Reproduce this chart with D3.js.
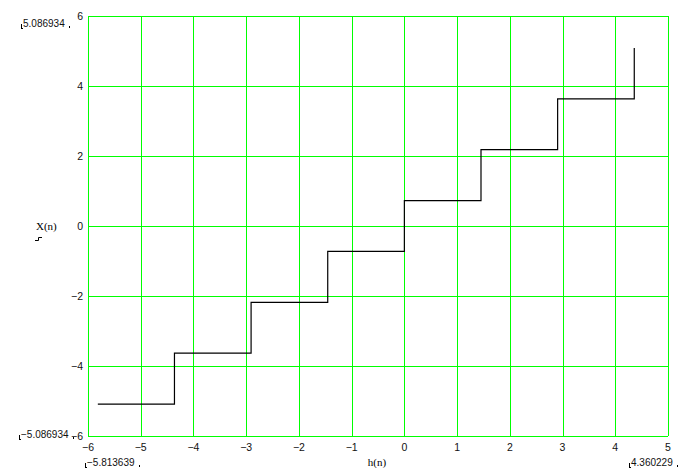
<!DOCTYPE html>
<html><head><meta charset="utf-8">
<script src="https://cdn.jsdelivr.net/npm/d3@7"></script>
<style>body{margin:0;background:#fff}svg{display:block}</style>
</head><body>
<svg id="c" width="690" height="468"></svg>
<script>
const hValues = [-5.813639, -4.360229, -2.906820, -1.453410, 0, 1.453410, 2.906820, 4.360229];
const xValues = [-5.086934, -3.633524, -2.180115, -0.726705, 0.726705, 2.180115, 3.633524, 5.086934];
const xTicks = [-6, -5, -4, -3, -2, -1, 0, 1, 2, 3, 4, 5];
const yTicks = [-6, -4, -2, 0, 2, 4, 6];
const cornerLabels = {yMax: "5.086934", yMin: "-5.086934", xMin: "-5.813639", xMax: "4.360229"};

const svg = d3.select("#c");
const x = d3.scaleLinear().domain([-6, 5]).range([88, 668]);
const y = d3.scaleLinear().domain([-6, 6]).range([436, 16]);
const green = "#00ff00";
const fmt = v => v < 0 ? "\u2212" + Math.abs(v) : String(v);
const tickFont = "'Liberation Sans', Arial, sans-serif";
const serif = "'Liberation Serif', 'Times New Roman', serif";

const g = svg.append("g").attr("shape-rendering", "crispEdges");
g.selectAll("line.v").data(xTicks).join("line")
  .attr("x1", d => Math.round(x(d)) + 0.5).attr("x2", d => Math.round(x(d)) + 0.5)
  .attr("y1", y(6)).attr("y2", y(-6)).attr("stroke", green).attr("stroke-width", 1.3);
g.selectAll("line.h").data(yTicks).join("line")
  .attr("y1", d => Math.round(y(d)) + 0.5).attr("y2", d => Math.round(y(d)) + 0.5)
  .attr("x1", x(-6)).attr("x2", x(5)).attr("stroke", green).attr("stroke-width", 1.3);

// tick labels
svg.selectAll("text.xt").data(xTicks).join("text")
  .attr("x", d => x(d)).attr("y", 451).attr("text-anchor", "middle")
  .attr("font-family", tickFont).attr("font-size", 10.5).attr("fill", "#111")
  .text(fmt);
svg.selectAll("text.yt").data(yTicks).join("text")
  .attr("x", 83).attr("y", d => y(d) + 4).attr("text-anchor", "end")
  .attr("font-family", tickFont).attr("font-size", 10.5).attr("fill", "#111")
  .text(fmt);

// step line
const line = d3.line().x(d => x(d[0])).y(d => y(d[1])).curve(d3.curveStepAfter);
svg.append("path").datum(hValues.map((h, i) => [h, xValues[i]]))
  .attr("d", line).attr("fill", "none").attr("stroke", "#000").attr("stroke-width", 1.2);

// axis titles
svg.append("text").attr("x", 36).attr("y", 230).attr("font-family", serif).attr("font-size", 11).text("X(n)");
svg.append("path").attr("d", "M35,240.5H38.5V237.5H42").attr("fill", "none").attr("stroke", "#000").attr("stroke-width", 1);
svg.append("text").attr("x", 377).attr("y", 466).attr("text-anchor", "middle").attr("font-family", serif).attr("font-size", 11).text("h(n)");

// corner labels with small bracket marks
function corner(xl, yb, txt) {
  const t = svg.append("text").attr("x", xl).attr("y", yb).attr("font-family", tickFont)
    .attr("font-size", 10).attr("fill", "#111").text(txt);
  const w = t.node().getComputedTextLength();
  svg.append("path").attr("d", `M${xl - 1.5},${yb - 3}V${yb + 1}H${xl}`)
    .attr("fill", "none").attr("stroke", "#000").attr("stroke-width", 1).attr("shape-rendering", "crispEdges");
  svg.append("path").attr("d", `M${xl + w + 4.5},${yb - 1}V${yb + 1}`)
    .attr("fill", "none").attr("stroke", "#000").attr("stroke-width", 1).attr("shape-rendering", "crispEdges");
}
corner(23, 27, cornerLabels.yMax);
corner(21, 438, cornerLabels.yMin.replace("-", "\u2212"));
corner(87, 466, cornerLabels.xMin.replace("-", "\u2212"));
corner(631, 466, cornerLabels.xMax);
</script>
</body></html>
